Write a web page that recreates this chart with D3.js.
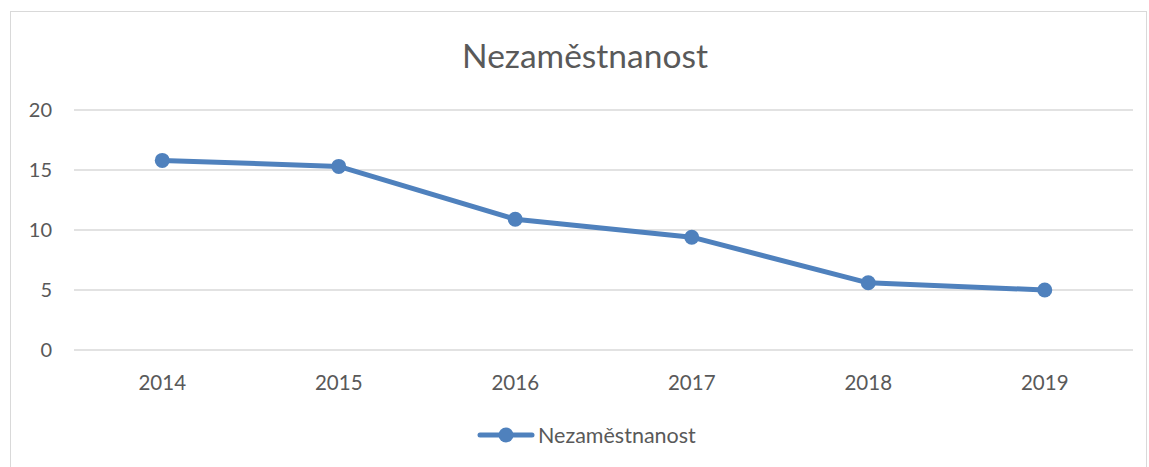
<!DOCTYPE html>
<meta charset="utf-8">
<script src="https://d3js.org/d3.v7.min.js"></script>
<style>
body { margin: 0; background: #fff; }
text { font-family: Lato, "Open Sans", sans-serif; fill: #595959; }
</style>
<body>
</body>
<script>

var years = ["2014", "2015", "2016", "2017", "2018", "2019"];
var values = [15.8, 15.3, 10.9, 9.4, 5.6, 5.0];
var yTicks = [0, 5, 10, 15, 20];
var seriesName = "Nezaměstnanost";

var width = 1149, height = 467;
var color = "#4f81bd";

var svg = d3.select("body").append("svg")
    .attr("width", width)
    .attr("height", height);

// chart frame
svg.append("rect")
    .attr("x", 10.5).attr("y", 11.5)
    .attr("width", 1136).attr("height", 470)
    .attr("fill", "none")
    .attr("stroke", "#d9d9d9");

var x = d3.scaleBand().domain(years).range([74, 1133]);
var y = d3.scaleLinear().domain([0, 20]).range([350, 110]);

// title
svg.append("text")
    .attr("x", 585).attr("y", 68)
    .attr("text-anchor", "middle")
    .style("font-size", "33.5px")
    .text(seriesName);

// gridlines
svg.selectAll(".grid")
  .data(yTicks)
  .enter().append("line")
    .attr("class", "grid")
    .attr("x1", 74).attr("x2", 1133)
    .attr("y1", function(d) { return y(d); })
    .attr("y2", function(d) { return y(d); })
    .attr("stroke", "#d9d9d9")
    .attr("stroke-width", 1.3);

// y labels
svg.selectAll(".ylab")
  .data(yTicks)
  .enter().append("text")
    .attr("class", "ylab")
    .attr("x", 52)
    .attr("y", function(d) { return y(d); })
    .attr("dy", "0.36em")
    .attr("text-anchor", "end")
    .style("font-size", "20px")
    .text(function(d) { return d; });

// x labels
svg.selectAll(".xlab")
  .data(years)
  .enter().append("text")
    .attr("class", "xlab")
    .attr("x", function(d) { return x(d) + x.bandwidth() / 2; })
    .attr("y", 390)
    .attr("text-anchor", "middle")
    .style("font-size", "20.5px")
    .text(function(d) { return d; });

var pts = years.map(function(d, i) { return [x(d) + x.bandwidth() / 2, y(values[i])]; });

svg.append("path")
    .attr("d", d3.line()(pts))
    .attr("fill", "none")
    .attr("stroke", color)
    .attr("stroke-width", 5)
    .attr("stroke-linejoin", "round")
    .attr("stroke-linecap", "round");

svg.selectAll(".dot")
  .data(pts)
  .enter().append("circle")
    .attr("class", "dot")
    .attr("cx", function(d) { return d[0]; })
    .attr("cy", function(d) { return d[1]; })
    .attr("r", 7.5)
    .attr("fill", color);

// legend
var lg = svg.append("g").attr("transform", "translate(0,435)");
lg.append("line")
    .attr("x1", 480).attr("x2", 532)
    .attr("y1", 0).attr("y2", 0)
    .attr("stroke", color)
    .attr("stroke-width", 5)
    .attr("stroke-linecap", "round");
lg.append("circle").attr("cx", 506).attr("cy", 0).attr("r", 7.5).attr("fill", color);
lg.append("text")
    .attr("x", 538).attr("y", 0)
    .attr("dy", "0.36em")
    .style("font-size", "21.5px")
    .text(seriesName);

</script>
